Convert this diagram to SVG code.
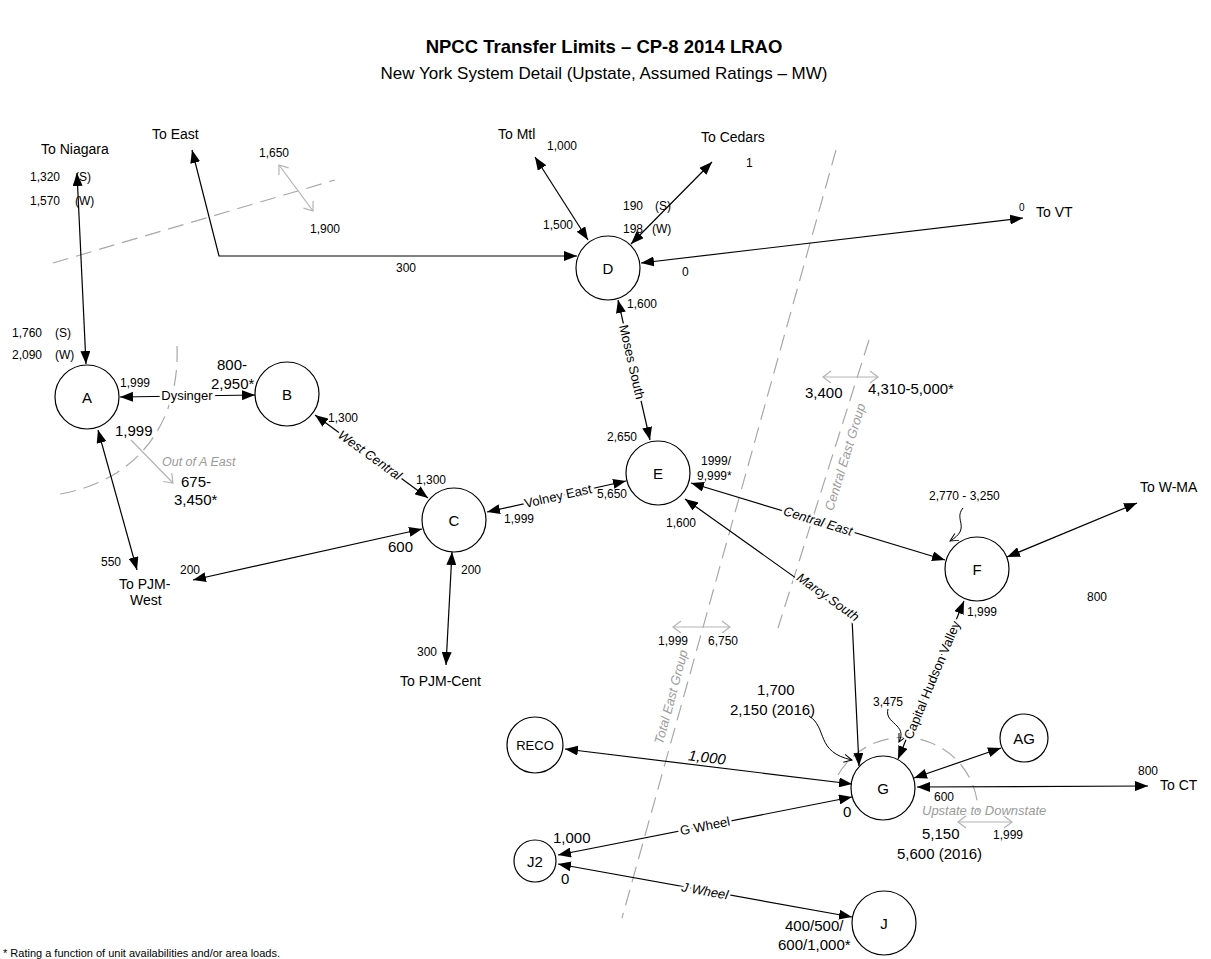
<svg xmlns="http://www.w3.org/2000/svg" width="1211" height="959" viewBox="0 0 1211 959">
<style>
text{font-family:"Liberation Sans",Arial,sans-serif;fill:#000}
.title{font-size:18.5px;font-weight:bold;text-anchor:middle}
.sub{font-size:17px;text-anchor:middle}
.t14{font-size:14px}
.n12{font-size:12px}
.n10{font-size:10px}
.n15{font-size:15px}
.lb{font-size:13px;text-anchor:middle;dominant-baseline:central;stroke:#fff;stroke-width:5px;paint-order:stroke}
.it{font-style:italic}
.gi{font-size:13px;font-style:italic;fill:#9a9a9a}
.nd{font-size:15px;text-anchor:middle;dominant-baseline:central}
.node{fill:#fff;stroke:#000;stroke-width:1.2}
.ln{fill:none;stroke:#000;stroke-width:1.2;marker-start:url(#ah);marker-end:url(#ah)}
.dash{fill:none;stroke:#a8a8a8;stroke-width:1.2;stroke-dasharray:16 8}
.ifc{fill:none;stroke:#b4b4b4;stroke-width:1.2;marker-start:url(#oa);marker-end:url(#oa)}
.co{fill:none;stroke:#000;stroke-width:1;marker-end:url(#ob)}
</style>
<defs>
<marker id="ah" viewBox="0 0 13 10" refX="13" refY="5" markerWidth="13" markerHeight="10" markerUnits="userSpaceOnUse" orient="auto-start-reverse"><path d="M0,0 L13,5 L0,10 z" fill="#000"/></marker>
<marker id="oa" viewBox="0 0 10 14" refX="9" refY="7" markerWidth="10" markerHeight="14" markerUnits="userSpaceOnUse" orient="auto-start-reverse"><path d="M1,1 L9,7 L1,13" fill="none" stroke="#b4b4b4" stroke-width="1.2"/></marker>
<marker id="ob" viewBox="0 0 10 10" refX="9" refY="5" markerWidth="10" markerHeight="10" markerUnits="userSpaceOnUse" orient="auto"><path d="M1,1 L9,5 L1,9" fill="none" stroke="#000" stroke-width="1"/></marker>
</defs>

<text class="title" x="604" y="53">NPCC Transfer Limits – CP-8 2014 LRAO</text>
<text class="sub" x="604" y="79">New York System Detail (Upstate, Assumed Ratings – MW)</text>

<g id="interfaces">
<path class="dash" d="M53,263 L335,180"/>
<path class="ifc" d="M279,165 L313,211"/>
<path class="dash" d="M177,346 C180,420 140,480 60,494"/>
<path class="ifc" d="M131,440 L173,483" style="marker-start:none"/>
<path class="dash" d="M836,150 L622,918"/>
<path class="ifc" d="M673,627 L730,627"/>
<path class="dash" d="M869,340 L778,628"/>
<path class="ifc" d="M823,377 L878,377"/>
<path class="dash" d="M838,775 A75,75 0 0 1 978,812"/>
<path class="ifc" d="M958,822 L1012,822"/>
<text class="gi" transform="translate(671,697) rotate(-75)" text-anchor="middle" dominant-baseline="central">Total East Group</text>
<text class="gi" transform="translate(845,457) rotate(-73)" text-anchor="middle" dominant-baseline="central">Central East Group</text>
<text class="gi" x="162" y="466" style="font-size:12.5px">Out of A East</text>
<text class="gi" x="922" y="815">Upstate to Downstate</text>
</g>

<g id="connectors">
<path class="ln" d="M77,173 L86,364"/>
<path class="ln" d="M192,150 L219,256 L577,256"/>
<path class="ln" d="M535,157 L588,240"/>
<path class="ln" d="M712,162 L631,244"/>
<path class="ln" d="M641,263 L1023,218"/>
<path class="ln" d="M618,300 L650,440"/>
<path class="ln" d="M120,397 L255,395"/>
<path class="ln" d="M98,430 L137,570"/>
<path class="ln" d="M315,415 L428,498"/>
<path class="ln" d="M487,512 L626,481"/>
<path class="ln" d="M193,580 L422,529"/>
<path class="ln" d="M452,552 L446,665"/>
<path class="ln" d="M691,483 L945,560"/>
<path class="ln" d="M685,499 L852,618 L859,766"/>
<path class="ln" d="M964,601 L898,759"/>
<path class="ln" d="M565,749 L852,784"/>
<path class="ln" d="M558,855 L852,797"/>
<path class="ln" d="M558,864 L852,917"/>
<path class="ln" d="M914,778 L1001,748"/>
<path class="ln" d="M917,787 L1148,786"/>
<path class="ln" d="M1007,557 L1137,503"/>
<path class="co" d="M809,716 C828,728 815,752 852,760"/>
<path class="co" d="M888,709 C884,724 908,724 899,742"/>
<path class="co" d="M963,508 C953,520 972,528 950,541"/>
<text class="lb" x="187" y="395">Dysinger</text>
<text class="lb" transform="translate(632,362) rotate(77)">Moses South</text>
<text class="lb it" transform="translate(370,455) rotate(36)">West Central</text>
<text class="lb" transform="translate(558,496) rotate(-12.6)">Volney East</text>
<text class="lb it" transform="translate(818,521) rotate(17)">Central East</text>
<text class="lb it" transform="translate(828,597) rotate(35.5)">Marcy South</text>
<text class="lb" transform="translate(932,680) rotate(-67.4)">Capital Hudson Valley</text>
<text class="lb" transform="translate(705,826) rotate(-11.2)">G Wheel</text>
<text class="lb it" transform="translate(705,891) rotate(10.2)">J Wheel</text>
<text class="n15 it" transform="translate(707,757) rotate(7)" text-anchor="middle" dominant-baseline="central">1,000</text>
</g>

<g id="node-A"><circle class="node" cx="87" cy="397" r="32"/><text class="nd" x="87" y="397">A</text></g>
<g id="node-B"><circle class="node" cx="287" cy="394" r="32"/><text class="nd" x="287" y="394">B</text></g>
<g id="node-C"><circle class="node" cx="454" cy="520" r="32"/><text class="nd" x="454" y="520">C</text></g>
<g id="node-D"><circle class="node" cx="608" cy="268" r="32"/><text class="nd" x="608" y="268">D</text></g>
<g id="node-E"><circle class="node" cx="658" cy="473" r="32"/><text class="nd" x="658" y="473">E</text></g>
<g id="node-F"><circle class="node" cx="977" cy="569" r="32"/><text class="nd" x="977" y="569">F</text></g>
<g id="node-G"><circle class="node" cx="883" cy="788" r="32"/><text class="nd" x="883" y="788">G</text></g>
<g id="node-AG"><circle class="node" cx="1024" cy="738" r="24"/><text class="nd" x="1024" y="738">AG</text></g>
<g id="node-RECO"><circle class="node" cx="535" cy="745" r="28"/><text class="nd" x="535" y="745" style="font-size:13px">RECO</text></g>
<g id="node-J2"><circle class="node" cx="535" cy="861" r="21"/><text class="nd" x="535" y="861">J2</text></g>
<g id="node-J"><circle class="node" cx="884" cy="923" r="32"/><text class="nd" x="884" y="923">J</text></g>

<g id="labels">
<text class="t14" x="41" y="154">To Niagara</text>
<text class="n12" x="30" y="181">1,320</text><text class="n12" x="75" y="181">(S)</text>
<text class="n12" x="30" y="205">1,570</text><text class="n12" x="75" y="205">(W)</text>
<text class="t14" x="152" y="139">To East</text>
<text class="n12" x="259" y="157">1,650</text>
<text class="n12" x="310" y="233">1,900</text>
<text class="n12" x="396" y="272">300</text>
<text class="t14" x="498" y="139">To Mtl</text>
<text class="n12" x="547" y="150">1,000</text>
<text class="n12" x="543" y="229">1,500</text>
<text class="t14" x="701" y="142">To Cedars</text>
<text class="n12" x="746" y="167">1</text>
<text class="n12" x="623" y="210">190</text><text class="n12" x="655" y="210">(S)</text>
<text class="n12" x="623" y="233">198</text><text class="n12" x="652" y="233">(W)</text>
<text class="n10" x="1019" y="211">0</text>
<text class="t14" x="1036" y="217">To VT</text>
<text class="n12" x="682" y="276">0</text>
<text class="n12" x="627" y="308">1,600</text>
<text class="n12" x="12" y="337">1,760</text><text class="n12" x="55" y="337">(S)</text>
<text class="n12" x="12" y="359">2,090</text><text class="n12" x="55" y="359">(W)</text>
<text class="n12" x="120" y="387">1,999</text>
<text class="n15" x="217" y="370">800-</text>
<text class="n15" x="211" y="389">2,950*</text>
<text class="n15" x="115" y="436">1,999</text>
<text class="n15" x="181" y="487">675-</text>
<text class="n15" x="174" y="505">3,450*</text>
<text class="n12" x="328" y="422">1,300</text>
<text class="n12" x="416" y="484">1,300</text>
<text class="n12" x="607" y="441">2,650</text>
<text class="n12" x="597" y="498">5,650</text>
<text class="n12" x="504" y="523">1,999</text>
<text class="n12" x="701" y="465">1999/</text>
<text class="n12" x="697" y="480">9,999*</text>
<text class="n12" x="666" y="527">1,600</text>
<text class="n12" x="101" y="566">550</text>
<text class="t14" x="119" y="589">To PJM-</text>
<text class="t14" x="130" y="605">West</text>
<text class="n12" x="180" y="574">200</text>
<text class="n15" x="388" y="552">600</text>
<text class="n12" x="461" y="574">200</text>
<text class="n12" x="417" y="656">300</text>
<text class="t14" x="400" y="686">To PJM-Cent</text>
<text class="n15" x="805" y="398">3,400</text>
<text class="n15" x="868" y="394">4,310-5,000*</text>
<text class="n12" x="929" y="500">2,770 - 3,250</text>
<text class="t14" x="1140" y="492">To W-MA</text>
<text class="n12" x="1087" y="601">800</text>
<text class="n12" x="967" y="616">1,999</text>
<text class="n12" x="658" y="645">1,999</text>
<text class="n12" x="708" y="645">6,750</text>
<text class="n15" x="757" y="695">1,700</text>
<text class="n15" x="730" y="715">2,150 (2016)</text>
<text class="n12" x="873" y="706">3,475</text>
<text class="n15" x="553" y="843">1,000</text>
<text class="n15" x="843" y="817">0</text>
<text class="n15" x="561" y="884">0</text>
<text class="n12" x="1138" y="775">800</text>
<text class="t14" x="1160" y="790">To CT</text>
<text class="n12" x="934" y="801">600</text>
<text class="n15" x="922" y="839">5,150</text>
<text class="n12" x="993" y="839">1,999</text>
<text class="n15" x="897" y="859">5,600 (2016)</text>
<text class="n15" x="785" y="931">400/500/</text>
<text class="n15" x="778" y="950">600/1,000*</text>
<text x="3" y="957" style="font-size:11px">* Rating a function of unit availabilities and/or area loads.</text>
</g>
</svg>
